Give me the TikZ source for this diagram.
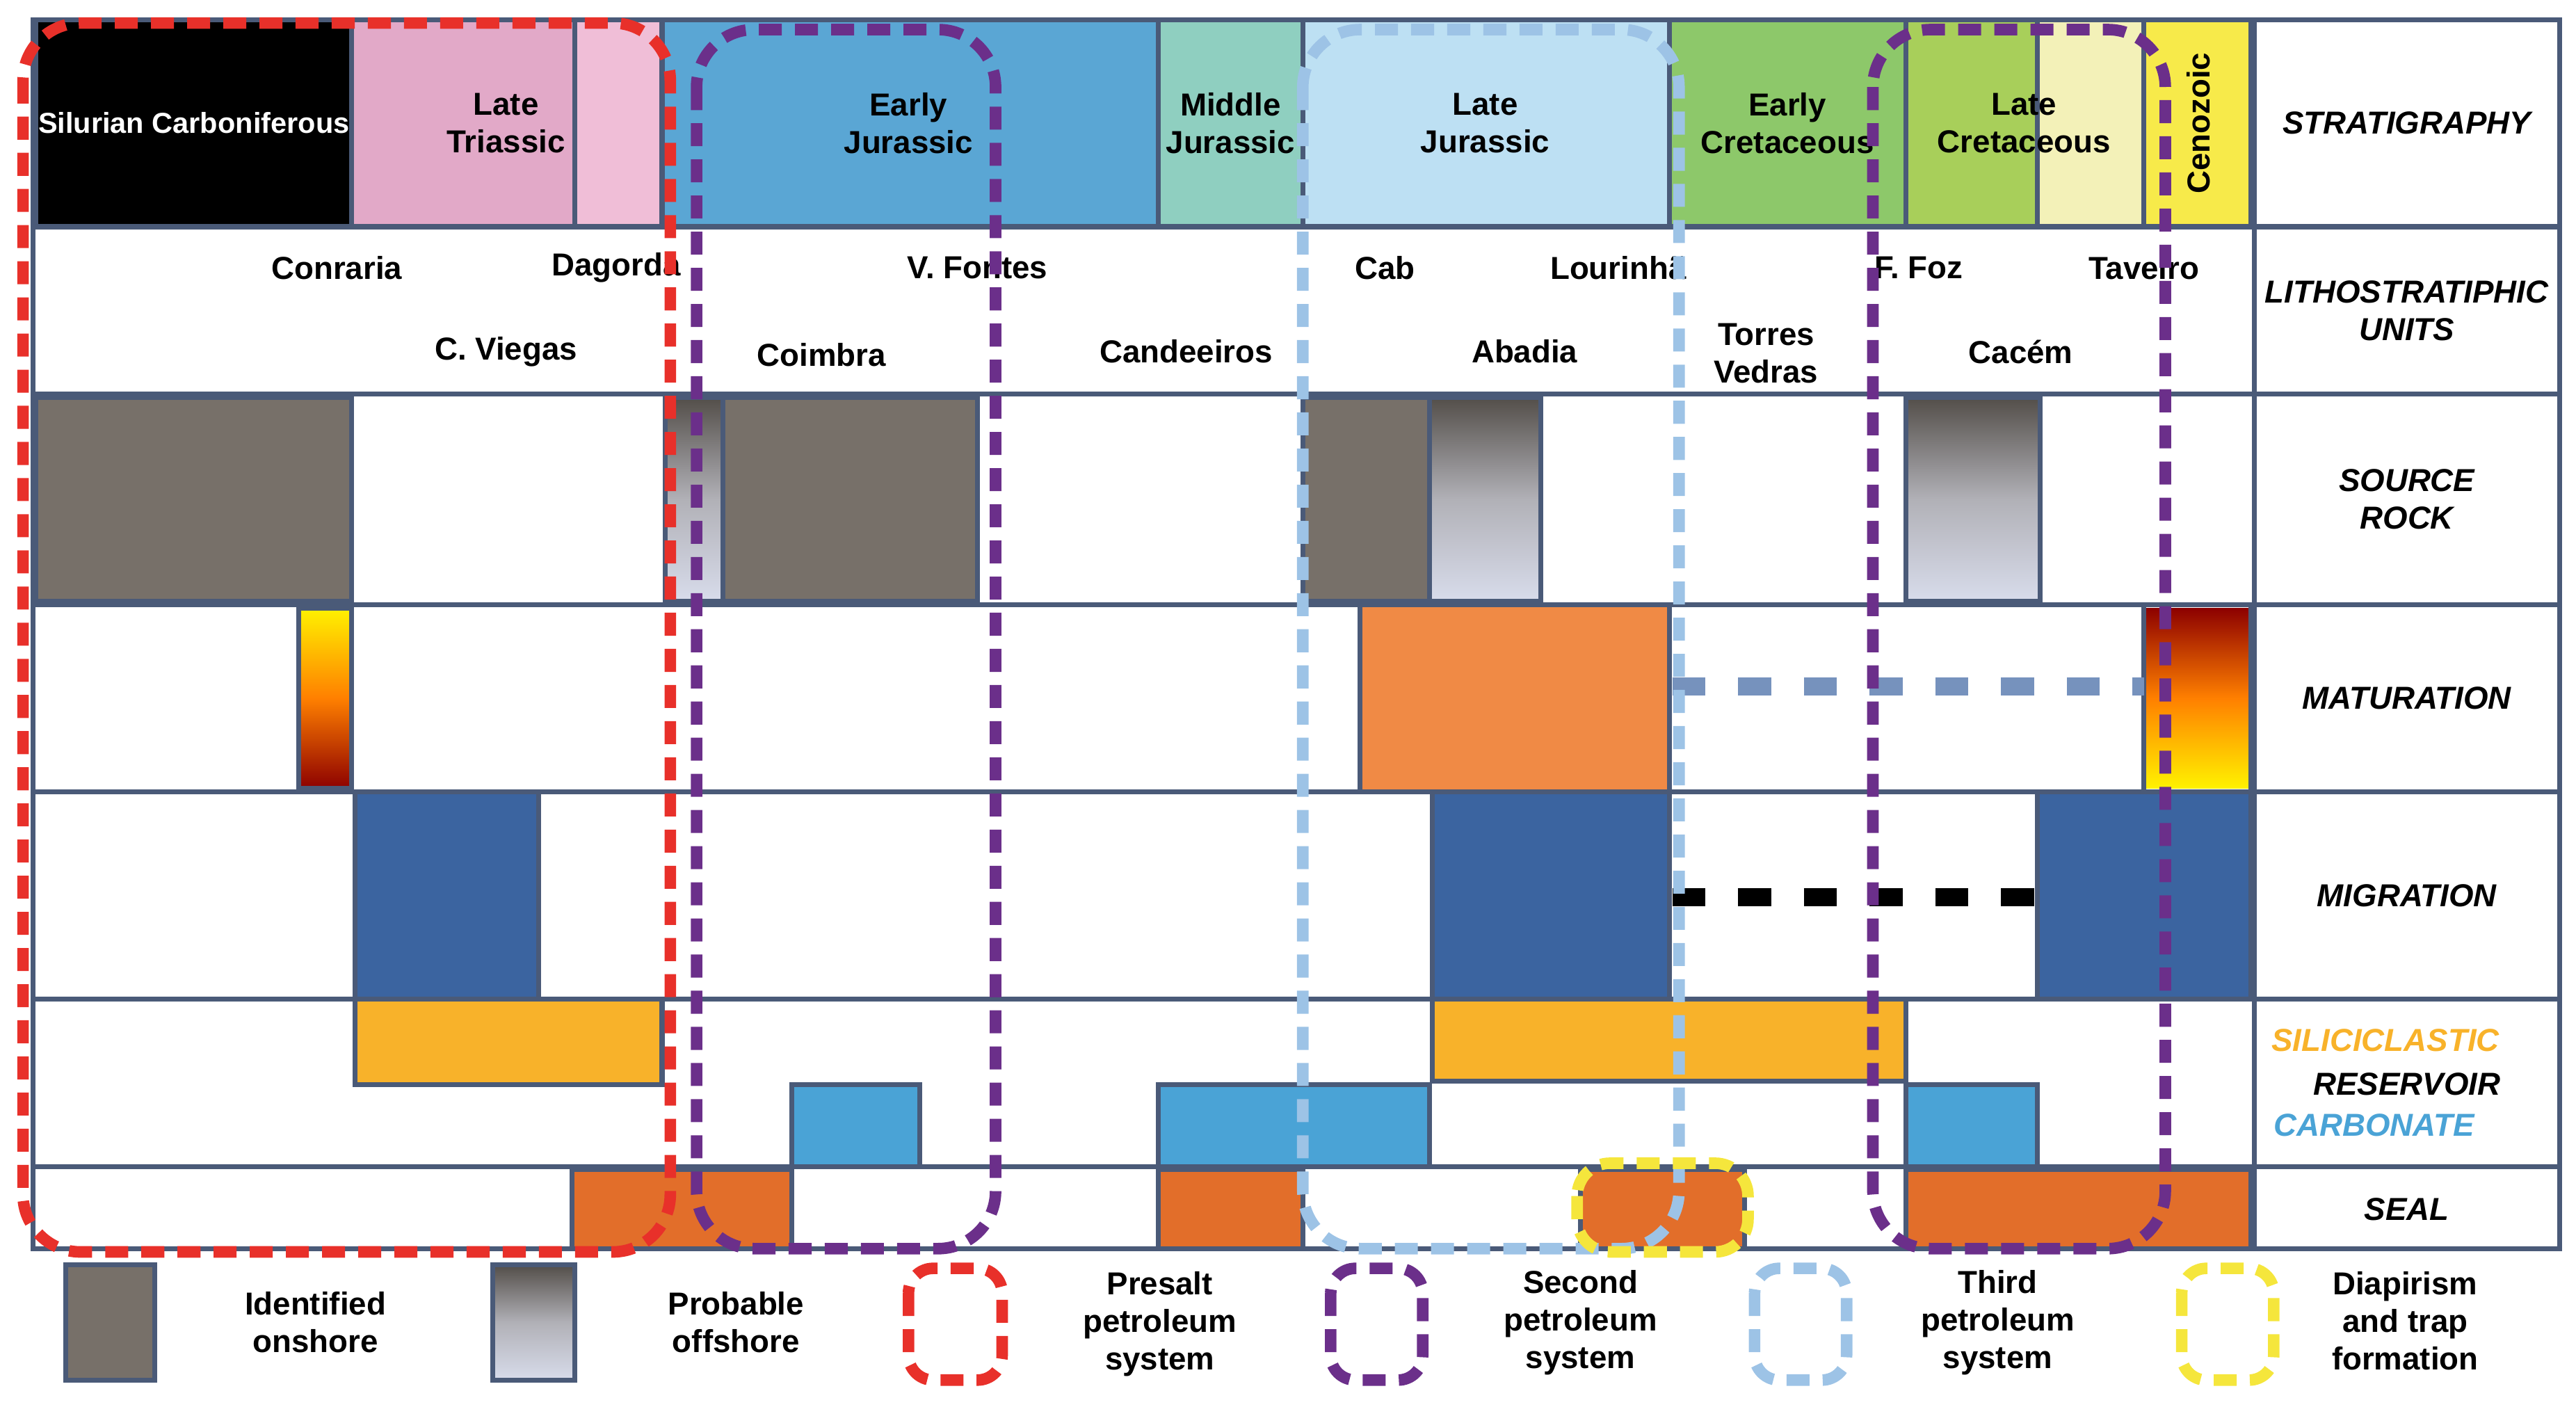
\documentclass[tikz,border=0pt]{standalone}
\usepackage{fontspec}
\setmainfont{Liberation Sans}
\definecolor{gridc}{HTML}{4A5A78}
\definecolor{rockc}{HTML}{777069}
\definecolor{paleb}{HTML}{D8DCEB}
\definecolor{matc}{HTML}{F08A45}
\definecolor{migc}{HTML}{3B64A0}
\definecolor{silc}{HTML}{F8B22A}
\definecolor{carbc}{HTML}{4AA3D6}
\definecolor{sealc}{HTML}{E26E2A}
\definecolor{presalt}{HTML}{E8302A}
\definecolor{second}{HTML}{6B2F8A}
\definecolor{third}{HTML}{9DC3E6}
\definecolor{diap}{HTML}{F5E63C}
\tikzset{
  cell/.style={draw=gridc, line width=1.7pt},
  sys/.style={line width=4pt, dash pattern=on 2.8mm off 1.6mm, rounded corners=7mm},
  txt/.style={font=\fontsize{11}{13}\selectfont\bfseries, align=center, inner sep=0pt},
  lab/.style={font=\fontsize{11}{13}\selectfont\bfseries\itshape, align=center, inner sep=0pt},
}
\begin{document}
\begin{tikzpicture}[x=0.2mm, y=-0.2mm]
\useasboundingbox (0,0) rectangle (1568,856);
% rows
\foreach \ya/\yb in {12/138,138/240,240/368,368/482,482/608,608/710,710/760}{
  \draw[cell] (20,\ya) rectangle (1372,\yb);
  \draw[cell] (1372,\ya) rectangle (1558,\yb);
}
% stratigraphy
\foreach \xa/\xb/\col in {22/214/black,214/350/{rgb,255:red,226;green,169;blue,200},350/403/{rgb,255:red,240;green,190;blue,215},403/705/{rgb,255:red,90;green,166;blue,212},705/793/{rgb,255:red,143;green,207;blue,192},793/1016/{rgb,255:red,189;green,224;blue,243},1016/1160/{rgb,255:red,141;green,200;blue,106},1160/1240/{rgb,255:red,168;green,207;blue,90},1240/1305/{rgb,255:red,243;green,241;blue,184},1305/1370/{rgb,255:red,247;green,234;blue,74}}
  \draw[cell, fill=\col] (\xa,12) rectangle (\xb,138);
\node[txt, white, font=\fontsize{10}{12}\selectfont\bfseries] (silcarb) at (118,75) {Silurian Carboniferous};
\node[txt] (ltri) at (308,75) {Late\\Triassic};
\node[txt] (ejur) at (553,75) {Early\\Jurassic};
\node[txt] (mjur) at (749,75) {Middle\\Jurassic};
\node[txt] (ljur) at (904,75) {Late\\Jurassic};
\node[txt] (ecre) at (1088,75) {Early\\Cretaceous};
\node[txt] (lcre) at (1232,75) {Late\\Cretaceous};
\node[txt, rotate=90] (ceno) at (1338,75) {Cenozoic};
% lithostratigraphic units
\foreach \x/\y/\t/\n in {205/163/Conraria/conr,375/163/Dagorda/dago,595/163/V. Fontes/vfon,843/163/Cab/Mtj/cabm,985/163/Lourinhã/lour,1168/163/F. Foz/ffoz,1305/163/Taveiro/tave,308/214/C. Viegas/cvie,500/216/Coimbra/coim,722/214/Candeeiros/cand,928/214/Abadia/abad,1230/214/Cacém/cace}
  \node[txt] (\n) at (\x,\y) {\t};
\node[txt] (tved) at (1075,215) {Torres\\Vedras};
% source rock
\foreach \xa/\xb in {22/214,440/595,793/870}
  \draw[cell, fill=rockc] (\xa,242) rectangle (\xb,366);
\foreach \xa/\xb in {405/440,870/938,1160/1242}{
  \shade[top color=rockc!70!black, bottom color=paleb, middle color=paleb!60!rockc] (\xa,242) rectangle (\xb,366);
  \draw[cell] (\xa,242) rectangle (\xb,366);
}
% maturation
\shade[top color=yellow!90!orange, bottom color=red!55!black, middle color=orange] (182,370) rectangle (214,480);
\draw[cell] (182,370) rectangle (214,480);
\draw[cell, fill=matc] (828,368) rectangle (1016,482);
\shade[top color=red!55!black, bottom color=yellow!90!orange, middle color=orange] (1305,370) rectangle (1370,480);
\draw[cell] (1305,368) rectangle (1370,482);
\draw[line width=4.4mm/2, color=migc!70!white, dash pattern=on 4mm off 4mm] (1018,418) -- (1305,418);
% migration
\foreach \xa/\xb in {216/328,872/1016,1240/1370}
  \draw[cell, fill=migc] (\xa,482) rectangle (\xb,608);
\draw[line width=2.2mm, black, dash pattern=on 4mm off 4mm] (1018,546) -- (1240,546);
% reservoir
\draw[cell, fill=silc] (216,608) rectangle (403,660);
\draw[cell, fill=silc] (872,608) rectangle (1160,658);
\foreach \xa/\xb in {482/560,705/870,1160/1240}
  \draw[cell, fill=carbc] (\xa,660) rectangle (\xb,710);
% seal
\foreach \xa/\xb in {348/482,705/793,962/1062,1160/1370}
  \draw[cell, fill=sealc] (\xa,712) rectangle (\xb,760);
% right labels
\node[lab] (strat) at (1465,75) {STRATIGRAPHY};
\node[lab] (litho) at (1465,189) {LITHOSTRATIPHIC\\UNITS};
\node[lab] (srock) at (1465,304) {SOURCE\\ROCK};
\node[lab] (matur) at (1465,425) {MATURATION};
\node[lab] (migra) at (1465,545) {MIGRATION};
\node[lab, color=silc] (silic) at (1452,633) {SILICICLASTIC};
\node[lab] (reser) at (1465,660) {RESERVOIR};
\node[lab, color=carbc] (carbo) at (1445,685) {CARBONATE};
\node[lab] (seal) at (1465,736) {SEAL};
% petroleum systems
\draw[sys, presalt] (14,14) rectangle (408,762);
\draw[sys, second] (424,18) rectangle (606,760);
\draw[sys, third] (793,18) rectangle (1022,760);
\draw[sys, second] (1140,18) rectangle (1318,760);
\draw[sys, diap, rounded corners=4mm] (960,708) rectangle (1064,762);
% legend
\draw[cell, fill=rockc] (40,770) rectangle (94,840);
\shade[top color=rockc!70!black, bottom color=paleb, middle color=paleb!60!rockc] (300,770) rectangle (350,840);
\draw[cell] (300,770) rectangle (350,840);
\draw[sys, presalt, rounded corners=3mm] (553,772) rectangle (610,840);
\draw[sys, second, rounded corners=3mm] (810,772) rectangle (866,840);
\draw[sys, third, rounded corners=3mm] (1068,772) rectangle (1124,840);
\draw[sys, diap, rounded corners=3mm] (1328,772) rectangle (1384,840);
\node[txt] (lgid) at (192,805) {Identified\\onshore};
\node[txt] (lgpr) at (448,805) {Probable\\offshore};
\node[txt] (lgps) at (706,806) {Presalt\\petroleum\\system};
\node[txt] (lgsp) at (962,805) {Second\\petroleum\\system};
\node[txt] (lgtp) at (1216,805) {Third\\petroleum\\system};
\node[txt] (lgdi) at (1464,804) {Diapirism\\and trap\\formation};
\end{tikzpicture}
\end{document}
